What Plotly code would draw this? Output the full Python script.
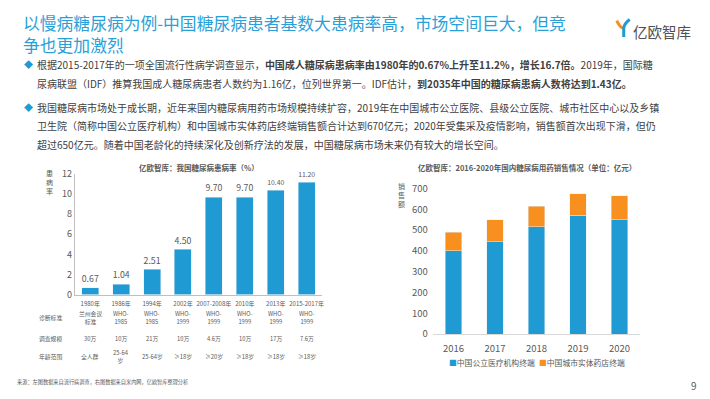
import plotly.graph_objects as go

# ---------------- data ----------------
left_categories = ["1980年", "1986年", "1994年", "2002年", "2007-2008年", "2010年", "2013年", "2015-2017年"]
prevalence = [0.67, 1.04, 2.51, 4.50, 9.70, 9.70, 10.40, 11.20]
diag_standard = ["兰州会议<br>标准", "WHO-<br>1985", "WHO-<br>1985", "WHO-<br>1999", "WHO-<br>1999", "WHO-<br>1999", "WHO-<br>1999", "WHO-<br>1999"]
survey_scale = ["30万", "10万", "21万", "10万", "4.6万", "10万", "17万", "7.6万"]
age_range = ["全人群", "25-64<br>岁", "25-64岁", "≥18岁", "≥20岁", "≥18岁", "≥18岁", "≥18岁"]
row_labels = ["诊断标准", "调查规模", "年龄范围"]

years = ["2016", "2017", "2018", "2019", "2020"]
public_medical = [400, 445, 515, 570, 550]
retail_pharmacy = [90, 105, 100, 105, 115]
series_names = ["中国公立医疗机构终端", "中国城市实体药店终端"]

# ---------------- style ----------------
W, H = 710, 399
FONT = "Noto Sans CJK SC"
BLUE = "#1F9AD3"
ORANGE = "#F7901E"
TITLE_C = "#2A9FD8"
GRAY = "#595959"
TXT = "#404040"

def px(x):
    return x / W

def py(y):
    return 1 - y / H

fig = go.Figure()

fig.add_trace(go.Bar(
    x=left_categories, y=prevalence, xaxis="x", yaxis="y", width=0.55,
    marker_color=BLUE, text=[f"{v:.2f}" for v in prevalence],
    textposition="outside", textfont=dict(size=9.5, color=GRAY, family=FONT),
    cliponaxis=False, showlegend=False, hoverinfo="skip",
))

series_colors = [BLUE, ORANGE]
for vals, name, col in zip([public_medical, retail_pharmacy], series_names, series_colors):
    fig.add_trace(go.Bar(
        x=years, y=vals, xaxis="x2", yaxis="y2", name=name, width=0.39,
        marker_color=col, hoverinfo="skip", showlegend=False,
    ))

annotations = []

def txt(x, y, text, size, color=TXT, xanchor="left", yanchor="middle", **kw):
    annotations.append(dict(
        x=px(x), y=py(y), xref="paper", yref="paper", text=text, showarrow=False,
        xanchor=xanchor, yanchor=yanchor, font=dict(size=size, color=color, family=FONT), **kw))

# title (two lines)
txt(21, 26.5, "以慢病糖尿病为例-中国糖尿病患者基数大患病率高，市场空间巨大，但竞<br>争也更加激烈",
    16.8, TITLE_C, align="left")

# logo text
txt(633, 24, "亿欧智库", 14.5, "#505050")

# bullets
for yb in (59, 103):
    txt(22, yb, "◆", 9, BLUE)

body = [
    (59, "根据2015-2017年的一项全国流行性病学调查显示，<b>中国成人糖尿病患病率由1980年的0.67%上升至11.2%，增长16.7倍。</b>2019年，国际糖"),
    (78, "尿病联盟（IDF）推算我国成人糖尿病患者人数约为1.16亿，位列世界第一。IDF估计，<b>到2035年中国的糖尿病患病人数将达到1.43亿。</b>"),
    (103, "我国糖尿病市场处于成长期，近年来国内糖尿病用药市场规模持续扩容，2019年在中国城市公立医院、县级公立医院、城市社区中心以及乡镇"),
    (122, "卫生院（简称中国公立医疗机构）和中国城市实体药店终端销售额合计达到670亿元；2020年受集采及疫情影响，销售额首次出现下滑，但仍"),
    (141, "超过650亿元。随着中国老龄化的持续深化及创新疗法的发展，中国糖尿病市场未来仍有较大的增长空间。"),
]
for yb, t in body:
    txt(35, yb, t, 10.0, TXT)

# chart titles
txt(200, 165, "<b>亿欧智库：我国糖尿病患病率（%）</b>", 7.5, GRAY, xanchor="center")
txt(528, 165, "<b>亿欧智库：2016-2020年国内糖尿病用药销售情况（单位：亿元）</b>", 7.5, GRAY, xanchor="center")

# y axis titles (stacked)
txt(50, 180, "患<br>病<br>率", 7, GRAY, xanchor="center")
txt(403, 194, "销<br>售<br>额", 7, GRAY, xanchor="center")

# table under left chart
rows = [(321, diag_standard), (342, survey_scale), (361, age_range)]
for (yr, vals), lab in zip(rows, row_labels):
    txt(51, yr, lab, 5.8, GRAY, xanchor="center")
    for c, v in zip(left_categories, vals):
        annotations.append(dict(
            x=c, y=py(yr), xref="x", yref="paper", text=v, showarrow=False,
            xanchor="center", yanchor="middle",
            font=dict(size=5.8, color=GRAY, family=FONT)))

# legend for right chart (built from series names/colours)
legend_x = [448, 539]
for lx, name, col in zip(legend_x, series_names, series_colors):
    txt(lx, 367, f"<span style='color:{col}'>■</span>{name}", 7.8, GRAY)

# source + page number
txt(15, 388, "来源：左图数据来自流行病调查，右图数据来自米内网，亿欧智库整理分析", 5.2, GRAY)
txt(696, 391, "9", 10, GRAY, xanchor="center")

# logo icon shapes
shapes = [
    dict(type="path", xref="paper", yref="paper",
         path=f"M {px(618.5)},{py(13)} Q {px(621)},{py(19)} {px(625)},{py(21)}",
         line=dict(color=ORANGE, width=3)),
    dict(type="path", xref="paper", yref="paper",
         path=f"M {px(631.5)},{py(12)} Q {px(626)},{py(16)} {px(625.5)},{py(21)} L {px(625.5)},{py(30)}",
         line=dict(color=BLUE, width=3)),
]

axis_font = dict(size=9.5, color=GRAY, family=FONT)

fig.update_layout(
    width=W, height=H,
    margin=dict(l=0, r=0, t=0, b=0),
    paper_bgcolor="white", plot_bgcolor="white",
    font=dict(family=FONT, color=GRAY),
    barmode="stack",
    annotations=annotations,
    shapes=shapes,
    showlegend=False,
    xaxis=dict(domain=[px(75), px(323)], anchor="y", type="category",
               showline=True, linecolor="#BFBFBF", linewidth=1, ticks="",
               ticklabelstandoff=3,
               tickfont=dict(size=6, color=GRAY, family=FONT), showgrid=False, fixedrange=True),
    yaxis=dict(domain=[py(297), py(172)], anchor="x", range=[0, 12], dtick=2,
               showline=True, linecolor="#BFBFBF", linewidth=1, ticks="",
               tickfont=dict(size=9, color=GRAY, family=FONT), showgrid=False, zeroline=False, fixedrange=True),
    xaxis2=dict(domain=[px(434), px(642)], anchor="y2", type="category",
                showline=True, linecolor="#D9D9D9", linewidth=1, ticks="",
                ticklabelstandoff=5,
                tickfont=axis_font, showgrid=False, fixedrange=True),
    yaxis2=dict(domain=[py(338), py(187)], anchor="x2", range=[0, 700], dtick=100,
                showline=False, ticks="", tickfont=axis_font, showgrid=False,
                ticklabelstandoff=4,
                zeroline=False, fixedrange=True),
)

fig.write_html("out.html", config={"displayModeBar": False},
               post_script="document.body.style.margin='0';")
